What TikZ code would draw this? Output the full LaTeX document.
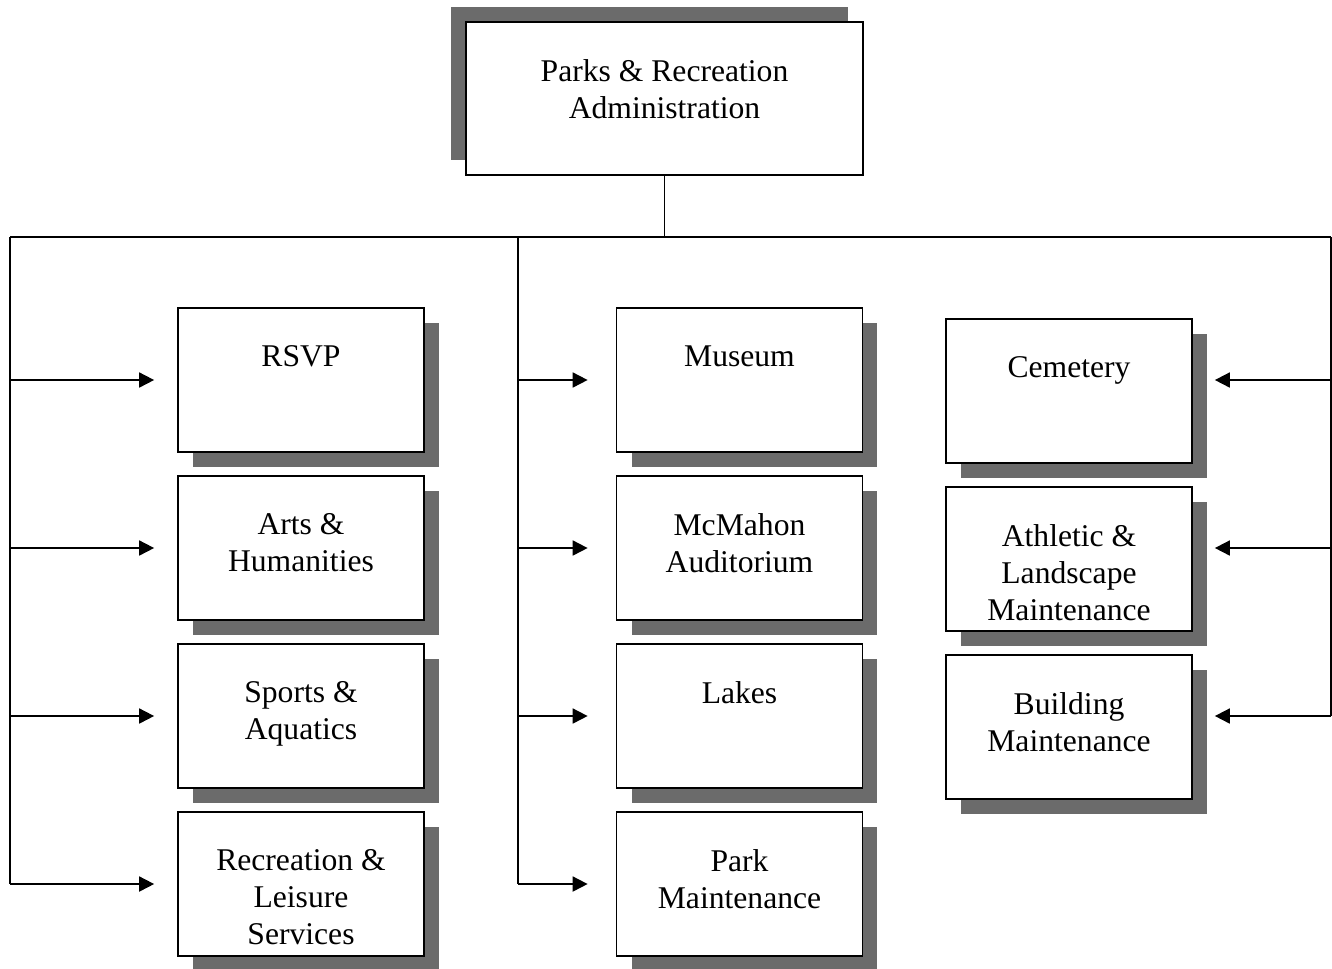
\documentclass[tikz,border=0pt]{standalone}
\usepackage{fontspec}
\setmainfont{Liberation Serif}
\usepackage{tikz}
\usetikzlibrary{positioning, arrows.meta, shadows}

\begin{document}
\begin{tikzpicture}[x=0.02cm, y=-0.02cm,
    unit/.style={draw, line width=1pt, fill=white, minimum width=4.92cm, minimum height=2.88cm, inner sep=0pt,
                 drop shadow={shadow xshift=0.3cm, shadow yshift=-0.3cm, fill=black!58, opacity=1}},
    caption/.style={font=\fontsize{18}{21}\selectfont, align=center, inner sep=0pt},
    arrow/.style={-{Triangle[length=3mm, width=3mm]}, line width=1pt},
    link/.style={line width=1pt}]

    \useasboundingbox (0,0) rectangle (1332,968);

    % Head box
    \node[draw, line width=1pt, fill=white, minimum width=7.94cm, minimum height=3.06cm, inner sep=0pt,
          drop shadow={shadow xshift=-0.3cm, shadow yshift=0.3cm, fill=black!58, opacity=1}] (admin) at (664.5,98.5) {};
    \node[caption, below=0.76cm of admin.north] (admin-t) {Parks \& Recreation\\Administration};

    % Left column
    \node[unit] (rsvp) at (301,380) {};
    \node[unit] (arts) at (301,548) {};
    \node[unit] (sports) at (301,716) {};
    \node[unit] (leisure) at (301,884) {};
    \node[caption, below=0.76cm of rsvp.north] (rsvp-t) {RSVP};
    \node[caption, below=0.76cm of arts.north] (arts-t) {Arts \&\\Humanities};
    \node[caption, below=0.76cm of sports.north] (sports-t) {Sports \&\\Aquatics};
    \node[caption, below=0.76cm of leisure.north] (leisure-t) {Recreation \&\\Leisure\\Services};

    % Middle column
    \node[unit] (museum) at (739.5,380) {};
    \node[unit] (mcmahon) at (739.5,548) {};
    \node[unit] (lakes) at (739.5,716) {};
    \node[unit] (parkmaint) at (739.5,884) {};
    \node[caption, below=0.76cm of museum.north] (museum-t) {Museum};
    \node[caption, below=0.76cm of mcmahon.north] (mcmahon-t) {McMahon\\Auditorium};
    \node[caption, below=0.76cm of lakes.north] (lakes-t) {Lakes};
    \node[caption, below=0.76cm of parkmaint.north] (parkmaint-t) {Park\\Maintenance};

    % Right column
    \node[unit] (cemetery) at (1069,391) {};
    \node[unit] (athletic) at (1069,559) {};
    \node[unit] (building) at (1069,727) {};
    \node[caption, below=0.76cm of cemetery.north] (cemetery-t) {Cemetery};
    \node[caption, below=0.76cm of athletic.north] (athletic-t) {Athletic \&\\Landscape\\Maintenance};
    \node[caption, below=0.76cm of building.north] (building-t) {Building\\Maintenance};

    % Bus and trunks
    \coordinate (lt) at (10,237);
    \coordinate (mt) at (518,237);
    \coordinate (rt) at (1331,237);
    \draw[link] (admin.south) -- (admin.south |- lt);
    \draw[link] (lt) -- (rt);
    \draw[link] (lt) -- (lt |- leisure);
    \draw[link] (mt) -- (mt |- parkmaint);
    \draw[link] (rt) -- (rt |- sports);

    % Arrows
    \foreach \n in {rsvp, arts, sports, leisure}
        \draw[arrow, shorten >=0.46cm] (lt |- \n) -- (\n.west);
    \foreach \n in {museum, mcmahon, lakes, parkmaint}
        \draw[arrow, shorten >=0.56cm] (mt |- \n) -- (\n.west);
    \draw[arrow, shorten >=0.44cm] (rt |- rsvp) -- (cemetery.east |- rsvp);
    \draw[arrow, shorten >=0.44cm] (rt |- arts) -- (athletic.east |- arts);
    \draw[arrow, shorten >=0.44cm] (rt |- sports) -- (building.east |- sports);

\end{tikzpicture}
\end{document}
